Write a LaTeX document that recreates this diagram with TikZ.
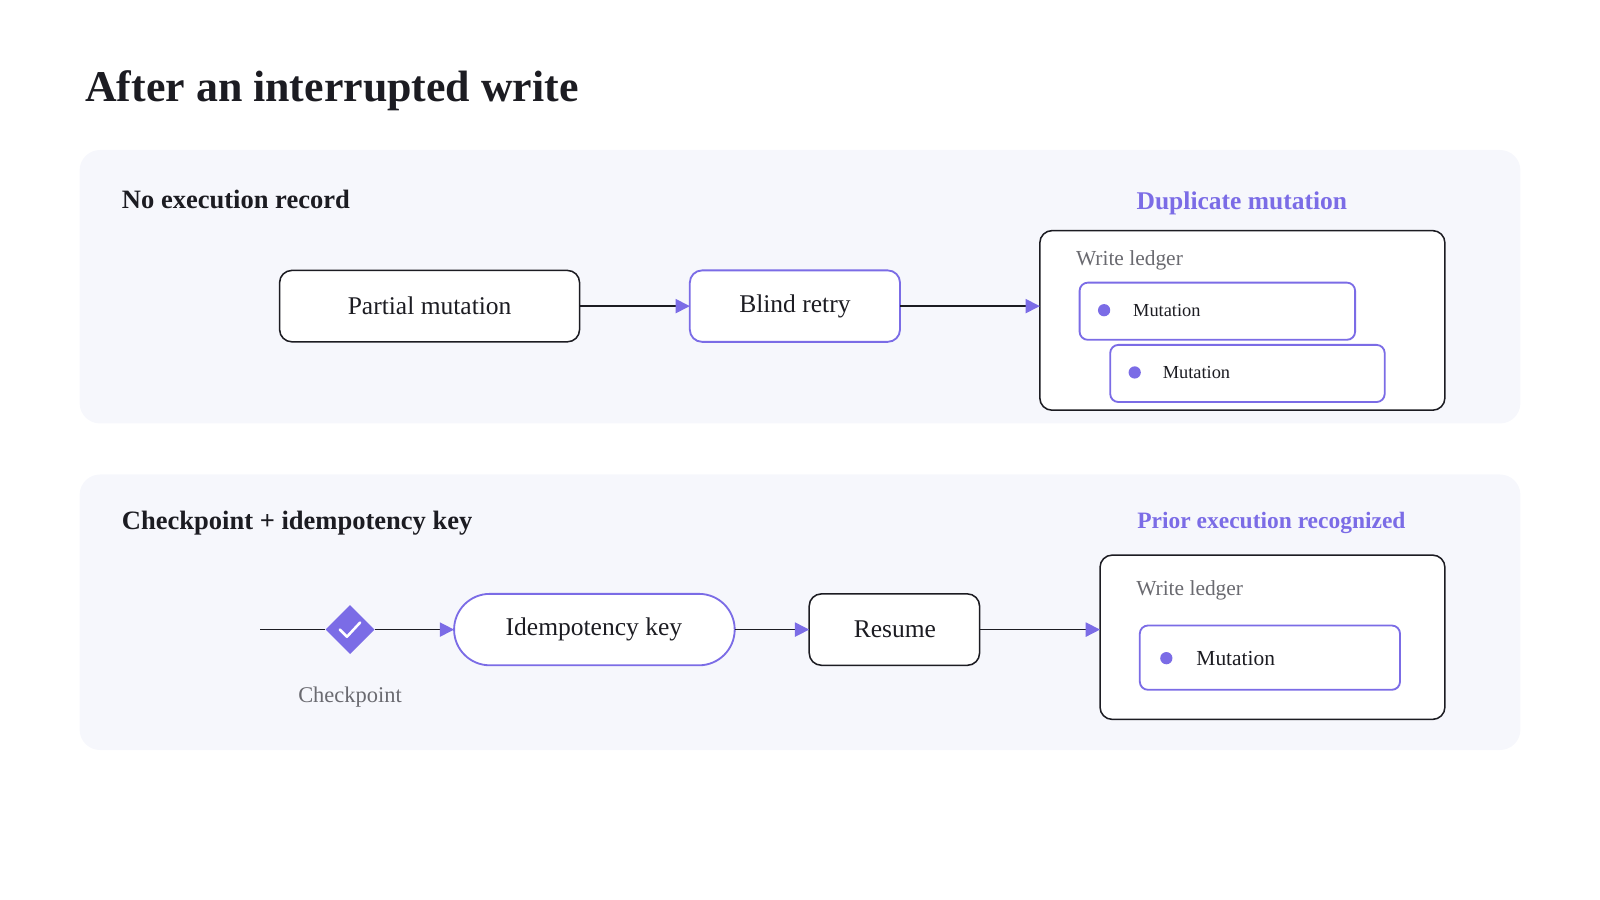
\documentclass[tikz,border=0pt]{standalone}
\usepackage{fontspec}
\setmainfont{Liberation Serif}
\usetikzlibrary{arrows.meta,shapes.geometric}
\definecolor{pur}{HTML}{7B6CE6}
\definecolor{ink}{HTML}{1C1C22}
\definecolor{gr}{HTML}{6A6A70}
\definecolor{panel}{HTML}{F6F7FC}
\tikzset{
 x=1pt,y=-1pt,
 box/.style={draw=ink,line width=1.5,rounded corners=12,fill=white},
 pbox/.style={draw=pur,line width=1.8,rounded corners=12,fill=white},
 lab/.style={font=\fontsize{25}{28}\selectfont,text=ink},
 arr/.style={draw=ink,line width=1.4,-{Triangle[length=14,width=14,fill=pur,color=pur]}},
 dot/.style={circle,fill=pur,inner sep=0,minimum size=12},
}
\begin{document}
\begin{tikzpicture}
\useasboundingbox (0,0) rectangle (1568,882);
\node[anchor=base west,font=\fontsize{43}{46}\bfseries,text=ink] (title) at (80,99) {After an interrupted write};
% panel 1
\fill[panel,rounded corners=20] (78,147) rectangle (1490,415);
\node[anchor=west,font=\fontsize{26}{28}\bfseries,text=ink] (h1) at (116,195) {No execution record};
\node[anchor=center,font=\fontsize{25}{28}\bfseries,text=pur] (d1) at (1217,199) {Duplicate mutation};
\draw[box] (274,265) rectangle (568,335); \node[lab] (pm) at (421,300) {Partial mutation};
\draw[pbox] (676,265) rectangle (882,335); \node[lab] (br) at (779,300) {Blind retry};
\draw[box] (1019,226) rectangle (1416,402);
\coordinate (l1) at (1019,300);
\node[anchor=west,font=\fontsize{21}{24}\selectfont,text=gr] (wl1) at (1051,255) {Write ledger};
\draw[pbox,rounded corners=8] (1058,277) rectangle (1328,333);
\node[dot] (dt1) at (1082,304) {}; \node[anchor=west,font=\fontsize{18}{20}\selectfont,text=ink] (m1) at (1107,304) {Mutation};
\draw[pbox,rounded corners=8] (1088,338) rectangle (1357,394);
\node[dot] (dt2) at (1112,365) {}; \node[anchor=west,font=\fontsize{18}{20}\selectfont,text=ink] (m2) at (1136,365) {Mutation};
\coordinate (pmE) at (568,300); \coordinate (brW) at (676,300); \coordinate (brE) at (882,300);
\draw[arr] (pmE) -- (brW);
\draw[arr] (brE) -- (l1);
% panel 2
\fill[panel,rounded corners=20] (78,465) rectangle (1490,735);
\node[anchor=west,font=\fontsize{26}{28}\bfseries,text=ink] (h2) at (116,513) {Checkpoint + idempotency key};
\node[anchor=center,font=\fontsize{23}{26}\bfseries,text=pur] (d2) at (1246,512) {Prior execution recognized};
\coordinate (st) at (255,617);
\node[diamond,fill=pur,minimum size=48,inner sep=0] (cp) at (343,617) {};
\draw[white,line width=2.5,line cap=round,line join=round] (333,617) -- (340,624) -- (353,610);
\node[font=\fontsize{22}{24}\selectfont,text=gr] (cpl) at (343,683) {Checkpoint};
\draw[pbox,rounded corners=35] (445,582) rectangle (720,652); \node[lab] (ik) at (582,617) {Idempotency key};
\draw[box] (793,582) rectangle (960,652); \node[lab] (rs) at (877,617) {Resume};
\draw[box] (1078,544) rectangle (1416,705);
\node[anchor=west,font=\fontsize{21}{24}\selectfont,text=gr] (wl2) at (1110,579) {Write ledger};
\draw[pbox,rounded corners=8] (1117,613) rectangle (1372,676);
\node[dot] (dt3) at (1143,645) {}; \node[anchor=west,font=\fontsize{21}{24}\selectfont,text=ink] (m3) at (1169,645) {Mutation};
\coordinate (ikW) at (445,617); \coordinate (ikE) at (720,617); \coordinate (rsW) at (793,617); \coordinate (rsE) at (960,617); \coordinate (l2) at (1078,617);
\draw[ink,line width=1.4] (st) -- (cp.west);
\draw[arr] (cp.east) -- (ikW);
\draw[arr] (ikE) -- (rsW);
\draw[arr] (rsE) -- (l2);
\end{tikzpicture}
\end{document}
